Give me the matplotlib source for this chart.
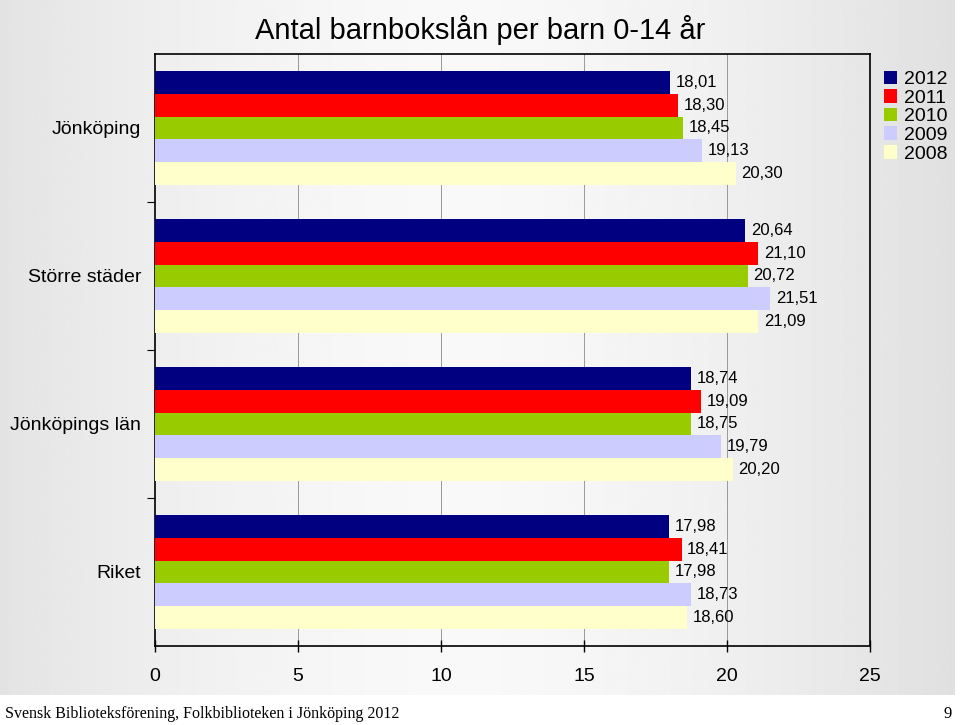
import numpy as np
import matplotlib
matplotlib.use('Agg')
import matplotlib.pyplot as plt
from matplotlib.patches import Patch

# data
regions = ['Jönköping', 'Större städer', 'Jönköpings län', 'Riket']
years = ['2012', '2011', '2010', '2009', '2008']
colors = ['#000080', '#ff0000', '#99cc00', '#ccccff', '#ffffcc']
v2012 = [18.01, 20.64, 18.74, 17.98]
v2011 = [18.30, 21.10, 19.09, 18.41]
v2010 = [18.45, 20.72, 18.75, 17.98]
v2009 = [19.13, 21.51, 19.79, 18.73]
v2008 = [20.30, 21.09, 20.20, 18.60]
series = [v2012, v2011, v2010, v2009, v2008]
xticks = [0, 5, 10, 15, 20, 25]

plt.rcParams['font.family'] = ['Liberation Sans', 'DejaVu Sans']

fig = plt.figure(figsize=(9.6, 7.25), dpi=100)
fig.patch.set_facecolor('white')

# slide background: grey with a lighter middle
bg = fig.add_axes([0, 30 / 725, 955 / 960, 1 - 30 / 725])
bg.set_axis_off()
xx = np.linspace(-1, 1, 400)
shade = 0.975 - 0.09 * np.abs(xx + 0.05) ** 1.6
img = np.tile(shade, (10, 1))
bg.imshow(img, cmap='gray', vmin=0, vmax=1, aspect='auto', extent=[0, 1, 0, 1])
bg.set_zorder(-10)

ax = fig.add_axes([155 / 960, 1 - 646 / 725, 715 / 960, 592 / 725])
ax.patch.set_alpha(0)

h = 0.153
n = len(years)
y = np.arange(len(regions))
for i, (vals, col, yr) in enumerate(zip(series, colors, years)):
    pos = y + (i - (n - 1) / 2) * h
    ax.barh(pos, vals, height=h, color=col, label=yr, zorder=3)
    for p, v in zip(pos, vals):
        ax.text(v + 0.2, p, f'{v:.2f}'.replace('.', ','), va='center', ha='left',
                fontsize=12, zorder=4)

ax.set_xlim(0, 25)
ax.set_ylim(len(regions) - 0.5, -0.5)
ax.set_xticks(xticks)
ax.set_xticklabels([str(t) for t in xticks], fontsize=14)
ax.tick_params(axis='x', direction='inout', length=9, width=1, pad=11)
ax.set_yticks(np.arange(len(regions) - 1) + 0.5)
ax.set_yticklabels([])
ax.set_yticks(y, minor=True)
ax.set_yticklabels(regions, minor=True, fontsize=14)
ax.tick_params(axis='y', which='major', direction='out', length=6)
ax.tick_params(axis='y', which='minor', length=0, pad=10)
for t in [5, 10, 15, 20]:
    ax.axvline(t, color='#999999', lw=0.7, zorder=1)
for s in ax.spines.values():
    s.set_color('black')
    s.set_linewidth(1.2)

handles = [Patch(facecolor=c, label=yr) for c, yr in zip(colors, years)]
fig.legend(handles=handles, loc='upper left', bbox_to_anchor=(874 / 960, 1 - 61 / 725),
           frameon=False, fontsize=14, handlelength=0.7, handleheight=0.7,
           handletextpad=0.35, labelspacing=0.05, borderpad=0)

fig.text(0.5, 1 - 30 / 725, 'Antal barnbokslån per barn 0-14 år', ha='center',
         va='center', fontsize=21)
fig.text(5 / 960, 1 - 714 / 725, 'Svensk Biblioteksförening, Folkbiblioteken i Jönköping 2012',
         ha='left', va='center', fontsize=11.5, family='Liberation Serif')
fig.text(952 / 960, 1 - 714 / 725, '9', ha='right', va='center', fontsize=12,
         family='Liberation Serif')

fig.savefig('out.png', dpi=100)
